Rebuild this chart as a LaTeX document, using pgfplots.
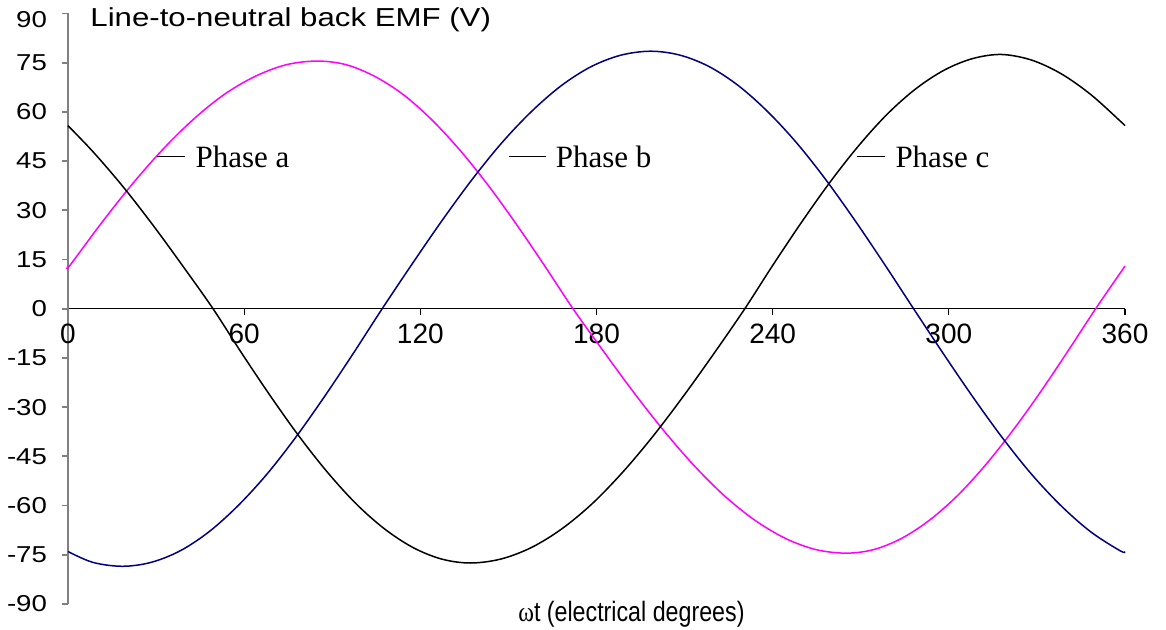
\documentclass[border=0pt]{standalone}
\usepackage{pgfplots}
\usepackage{pgfplotstable}
\pgfplotsset{compat=1.18}
\usepackage{fontspec}
\setmainfont{Liberation Sans}
\newfontfamily\ytickfont{Liberation Sans}[FakeStretch=1.2]
\newfontfamily\xtickfont{Liberation Sans}
\newfontfamily\titlefont{Liberation Sans}[FakeStretch=1.2]
\newfontfamily\xlabfont{Liberation Sans}[FakeStretch=0.83]
\newfontfamily\serifont{Liberation Serif}
\newfontfamily\serifnarrow{Liberation Serif}[FakeStretch=0.85]

% Phase a (magenta)
\pgfplotstableread{
x y
0 13.0
0.56 13.1
11.11 25.8
21.67 37.75
32.22 48.5
42.78 57.8
53.33 65.4
63.89 70.9
74.44 74.4
85.0 75.5
94.67 74.4
104.33 70.9
114.0 65.4
123.67 57.8
133.33 48.5
143.0 37.75
152.67 25.8
162.33 13.1
172.0 0.0
182.33 -12.9
192.67 -25.5
203.0 -37.25
213.33 -47.9
223.67 -57.1
234.0 -64.5
244.33 -70.0
254.67 -73.4
265.0 -74.5
274.44 -73.4
283.89 -70.0
293.33 -64.5
302.78 -57.1
312.22 -47.9
321.67 -37.25
331.11 -25.5
340.56 -12.9
350.0 0.0
360.0 13.0
}\phA

% Phase b (navy)
\pgfplotstableread{
x y
0 -74.0
8.44 -77.3
18.5 -78.5
28.33 -77.3
38.17 -73.8
48.0 -68.0
57.83 -60.1
67.67 -50.5
77.5 -39.25
87.33 -26.8
97.17 -13.6
107.0 0.0
117.17 13.6
127.33 26.8
137.5 39.25
147.67 50.5
157.83 60.1
168.0 68.0
178.17 73.8
188.33 77.3
198.5 78.5
208.44 77.3
218.39 73.8
228.33 68.0
238.28 60.1
248.22 50.5
258.17 39.25
268.11 26.8
278.06 13.6
288.0 0.0
298.06 -13.6
308.11 -26.8
318.17 -39.25
328.22 -50.5
338.28 -60.1
348.33 -68.0
358.39 -73.8
360 -74.0
}\phB

% Phase c (black)
\pgfplotstableread{
x y
0 55.8
8.78 47.6
18.93 37.0
29.09 25.3
39.24 12.85
49.4 0.0
59.13 -13.5
68.87 -26.5
78.6 -38.75
88.33 -49.8
98.07 -59.4
107.8 -67.1
117.53 -72.8
127.27 -76.3
137.0 -77.5
147.39 -76.3
157.78 -72.8
168.17 -67.1
178.56 -59.4
188.94 -49.8
199.33 -38.75
209.72 -26.5
220.11 -13.5
230.5 0.0
240.22 13.5
249.94 26.5
259.67 38.75
269.39 49.8
279.11 59.4
288.83 67.1
298.56 72.8
308.28 76.3
318.0 77.5
328.16 75.8
338.31 71.6
348.47 65.2
358.62 57.0
360 55.8
}\phC

\definecolor{phmag}{RGB}{255,0,255}
\definecolor{phnavy}{RGB}{0,0,128}

\begin{document}
\begin{tikzpicture}
\begin{axis}[
  scale only axis, width=528.5pt, height=295.25pt,
  xmin=0, xmax=360, ymin=-90, ymax=90,
  axis x line=middle, axis y line=left,
  axis line style={-},
  x axis line style={draw=black, line width=0.6pt},
  y axis line style={draw=gray, line width=0.9pt},
  xtick={0,60,120,180,240,300,360},
  xticklabels={0,60,120,180,240,300,360},
  ytick={-90,-75,-60,-45,-30,-15,0,15,30,45,60,75,90},
  yticklabels={-90,-75,-60,-45,-30,-15,0,15,30,45,60,75,{\raisebox{-3pt}[\height][\depth]{90}}},
  hide obscured x ticks=false, hide obscured y ticks=false,
  tick align=outside, major tick length=3pt,
  xtick style={black, line width=0.6pt},
  ytick style={gray, line width=0.9pt},
  xticklabel style={font=\xtickfont\fontsize{14pt}{16pt}\selectfont, anchor=north, yshift=-1pt},
  yticklabel style={font=\ytickfont\fontsize{11.5pt}{13pt}\selectfont, anchor=east, xshift=-4pt},
  clip=false,
]
\addplot[phmag, line width=0.75pt, smooth, tension=0.55] table[x=x, y=y] {\phA};
\addplot[phnavy, line width=0.75pt, smooth, tension=0.55] table[x=x, y=y] {\phB};
\addplot[black, line width=0.75pt, smooth, tension=0.55] table[x=x, y=y] {\phC};

\draw[black, line width=0.6pt] (axis cs:30.3,46.4) -- (axis cs:39.9,46.4);
\draw[black, line width=0.6pt] (axis cs:150.2,46.4) -- (axis cs:162.8,46.4);
\draw[black, line width=0.6pt] (axis cs:268.6,46.4) -- (axis cs:278.3,46.4);
\node[anchor=west, inner sep=0pt, font=\serifont\fontsize{15.5pt}{17pt}\selectfont] at (axis cs:43.3,46.4) {Phase a};
\node[anchor=west, inner sep=0pt, font=\serifont\fontsize{15.5pt}{17pt}\selectfont] at (axis cs:166.0,46.4) {Phase b};
\node[anchor=west, inner sep=0pt, font=\serifont\fontsize{15.5pt}{17pt}\selectfont] at (axis cs:281.7,46.4) {Phase c};

\node[anchor=base west, inner sep=0pt, font=\titlefont\fontsize{13pt}{15pt}\selectfont] at (axis cs:7.5,86) {Line-to-neutral back EMF (V)};
\node[anchor=base, inner sep=0pt, font=\xlabfont\fontsize{14pt}{16pt}\selectfont] at (axis cs:191.9,-95.3) {{\serifnarrow ω}t (electrical degrees)};

\coordinate (sw) at (rel axis cs:0,0);
\end{axis}
\pgfresetboundingbox
\path (sw) ++(-34pt,-12.5pt) rectangle ++(583pt,314.5pt);
\end{tikzpicture}
\end{document}
